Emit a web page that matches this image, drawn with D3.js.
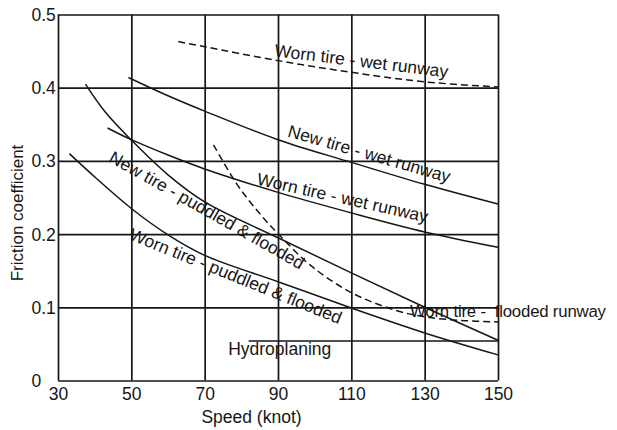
<!DOCTYPE html>
<html>
<head>
<meta charset="utf-8">
<script src="https://cdn.jsdelivr.net/npm/d3@7/dist/d3.min.js"></script>
<style>
  html, body { margin: 0; padding: 0; background: #fff; }
  svg { display: block; font-family: "Liberation Sans", Arial, sans-serif; }
</style>
</head>
<body>
<svg id="chart" width="617" height="430"></svg>
<script>
// Friction coefficient vs. aircraft speed for tire / runway conditions
const speedTicks = [30, 50, 70, 90, 110, 130, 150];
const frictionTicks = [0, 0.1, 0.2, 0.3, 0.4, 0.5];
const frictionTickLabels = ["0", "0.1", "0.2", "0.3", "0.4", "0.5"];

// [speed (knot), friction coefficient]
const wornWetDashed = [[62.8, 0.463], [70, 0.456], [90, 0.437], [110, 0.421], [130, 0.408], [150, 0.401]];
const newWet = [[49.2, 0.414], [60, 0.389], [70, 0.368], [90, 0.329], [110, 0.298], [130, 0.268], [150, 0.241]];
const wornWet = [[43.5, 0.345], [50, 0.329], [60, 0.308], [70, 0.289], [90, 0.257], [110, 0.229], [130, 0.203], [150, 0.182]];
const newPuddled = [[37.5, 0.405], [43, 0.366], [50, 0.3285], [60, 0.281], [70, 0.244], [90, 0.195], [110, 0.147], [130, 0.100], [150, 0.055]];
const wornPuddled = [[33.1, 0.310], [40.5, 0.276], [50, 0.235], [60, 0.199], [70, 0.171], [90, 0.135], [110, 0.099], [130, 0.065], [150, 0.035]];
const wornFlooded = [[72.4, 0.322], [78.7, 0.269], [85, 0.228], [90.5, 0.198], [98.7, 0.158], [110, 0.120], [122, 0.096], [130, 0.087], [140, 0.082], [150, 0.080]];
const hydroplaning = [[82, 0.054], [150, 0.054]];

const seriesSolid = [newWet, wornWet, newPuddled, wornPuddled, hydroplaning];
const seriesDashed = [wornWetDashed, wornFlooded];

// curve captions: text, anchor speed, anchor friction, rotation (deg)
const captionText = ["Worn tire - wet runway", "New tire - wet runway", "Worn tire - wet runway",
  "New tire - puddled & flooded", "Worn tire - puddled & flooded", "Worn tire -\u00a0 flooded runway", "Hydroplaning"];
const captionSpeed = [88.9, 92.4, 84.0, 43.6, 49.1, 126.0, 76.4];
const captionFriction = [0.443, 0.3335, 0.2678, 0.2999, 0.1933, 0.0872, 0.0348];
const captionAngle = [7, 16, 12.6, 29.5, 22, 0, 0];

const svg = d3.select("#chart");
const plotLeft = 58, plotRight = 498, plotTop = 14.5, plotBottom = 380.5;

const x = d3.scaleLinear().domain([30, 150]).range([plotLeft, plotRight]);
const y = d3.scaleLinear().domain([0, 0.5]).range([plotBottom, plotTop]);

const ink = "#161616";

// grid + axes
const gx = svg.append("g").attr("transform", `translate(0,${plotBottom})`)
  .call(d3.axisBottom(x).tickValues(speedTicks).tickSize(-(plotBottom - plotTop)).tickSizeOuter(0).tickPadding(0));
gx.select(".domain").remove();
gx.selectAll(".tick line").attr("stroke", ink).attr("stroke-width", 1.7);
gx.selectAll(".tick text").attr("y", 19.5).attr("dy", 0)
  .attr("fill", ink).attr("font-size", 17.5).attr("font-family", "Liberation Sans, Arial, sans-serif");

const gy = svg.append("g").attr("transform", `translate(${plotLeft},0)`)
  .call(d3.axisLeft(y).tickValues(frictionTicks).tickFormat((d, i) => frictionTickLabels[i])
    .tickSize(-(plotRight - plotLeft)).tickSizeOuter(0).tickPadding(0));
gy.select(".domain").remove();
gy.selectAll(".tick line").attr("stroke", ink).attr("stroke-width", 1.7);
gy.selectAll(".tick text").attr("x", 31.5 - plotLeft).attr("text-anchor", "start").attr("dy", "0.34em")
  .attr("fill", ink).attr("font-size", 17.5).attr("font-family", "Liberation Sans, Arial, sans-serif");

// axis titles
svg.append("text").attr("x", 251.5).attr("y", 422.5).attr("text-anchor", "middle")
  .attr("font-size", 17.5).attr("fill", ink).text("Speed (knot)");
svg.append("text").attr("transform", "translate(22.5,213) rotate(-90)").attr("text-anchor", "middle")
  .attr("font-size", 17).attr("fill", ink).text("Friction coefficient");

// curves
const line = d3.line().x(d => x(d[0])).y(d => y(d[1])).curve(d3.curveCatmullRom.alpha(0.5));

svg.append("g").selectAll("path").data(seriesSolid).join("path")
  .attr("d", line).attr("fill", "none").attr("stroke", ink).attr("stroke-width", 1.5);

svg.append("g").selectAll("path").data(seriesDashed).join("path")
  .attr("d", line).attr("fill", "none").attr("stroke", ink).attr("stroke-width", 1.5)
  .attr("stroke-dasharray", "7,4");

// captions along the curves; the flooded-runway one runs past the frame, so it is set a touch tighter
svg.append("g").selectAll("text").data(captionText).join("text")
  .attr("transform", (d, i) => `translate(${x(captionSpeed[i])},${y(captionFriction[i])}) rotate(${captionAngle[i]})`)
  .attr("font-size", (d, i) => i === 5 ? 16.8 : 17.5)
  .attr("letter-spacing", (d, i) => i === 5 ? -0.2 : 0)
  .attr("fill", ink)
  .text(d => d);
</script>
</body>
</html>
